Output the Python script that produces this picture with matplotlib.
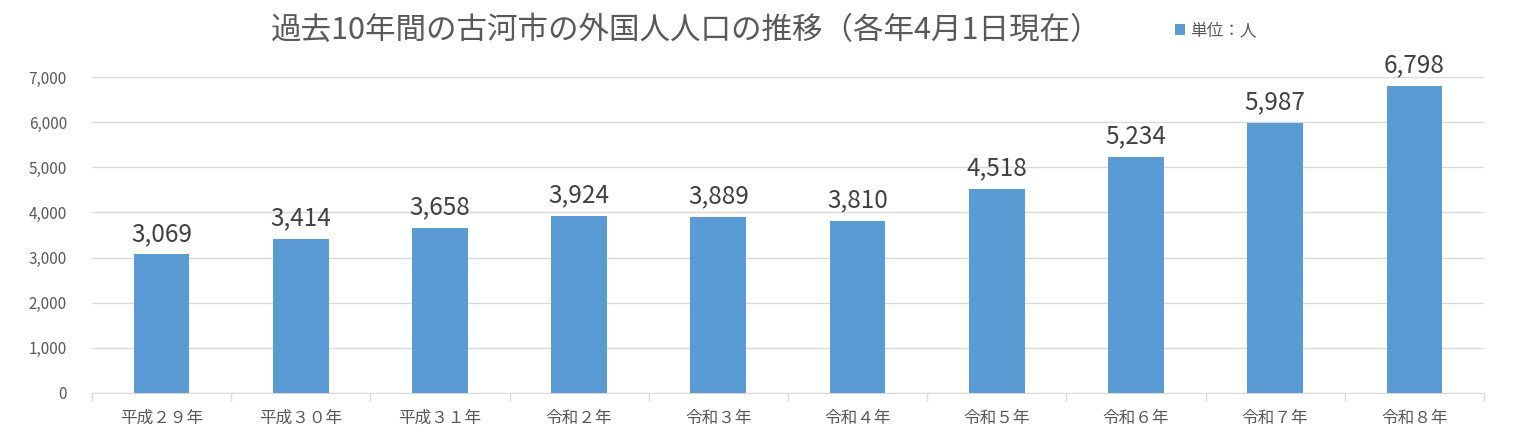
import matplotlib
matplotlib.use("Agg")
import matplotlib.pyplot as plt
import numpy as np

plt.rcParams['font.family'] = ['Noto Sans CJK JP', 'DejaVu Sans']

categories = ["平成２９年", "平成３０年", "平成３１年", "令和２年", "令和３年",
              "令和４年", "令和５年", "令和６年", "令和７年", "令和８年"]
values = [3069, 3414, 3658, 3924, 3889, 3810, 4518, 5234, 5987, 6798]
yticks = [0, 1000, 2000, 3000, 4000, 5000, 6000, 7000]

bar_color = "#5B9BD5"
text_color = "#595959"
grid_color = "#D9D9D9"

fig = plt.figure(figsize=(15.22, 4.42), dpi=100)
ax = fig.add_axes([0.0604, 0.1109, 0.9146, 0.7149])

x = np.arange(len(categories))
bars = ax.bar(x, values, width=0.4, color=bar_color, zorder=3, label="単位：人")

for xi, v in zip(x, values):
    ax.text(xi, v + 170, f"{v:,}", ha="center", va="bottom", fontsize=17.5,
            color="#404040", clip_on=False)

ax.set_xlim(-0.5, len(categories) - 0.5)
ax.set_ylim(0, 7000)
ax.set_yticks(yticks)
ax.set_yticklabels([f"{t:,}" for t in yticks], fontsize=11, color=text_color)
ax.yaxis.grid(True, color=grid_color, linewidth=1, zorder=0)
ax.tick_params(axis="y", length=0, pad=18)

ax.set_xticks(x)
ax.set_xticklabels(categories, fontsize=12, color=text_color)
ax.set_xticks(np.arange(-0.5, len(categories)), minor=True)
ax.tick_params(axis="x", which="major", length=0, pad=12)
ax.tick_params(axis="x", which="minor", length=6, color=grid_color, width=1)

for s in ["top", "right", "left"]:
    ax.spines[s].set_visible(False)
ax.spines["bottom"].set_color(grid_color)

fig.text(0.451, 0.93, "過去10年間の古河市の外国人人口の推移（各年4月1日現在）",
         ha="center", va="center", fontsize=22, color=text_color)
fig.legend(handles=[bars], labels=["単位：人"], loc="center left",
           bbox_to_anchor=(0.762, 0.93), frameon=False, fontsize=12,
           handlelength=0.6, handleheight=0.6, handletextpad=0.3,
           labelcolor=text_color)

fig.savefig("out.png", dpi=100)
